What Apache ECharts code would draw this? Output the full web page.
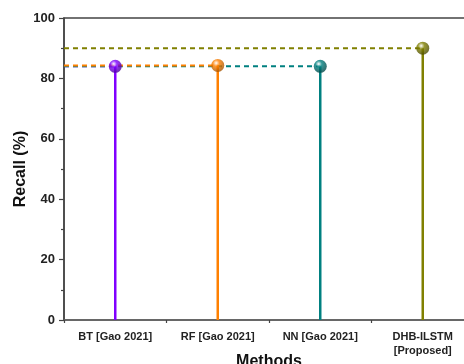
<!DOCTYPE html>
<html><head><meta charset="utf-8">
<script src="https://cdn.jsdelivr.net/npm/echarts@6/dist/echarts.min.js"></script>
<style>html,body{margin:0;padding:0;background:#fff;overflow:hidden}#c{width:464px;height:364px}</style>
</head><body><div id="c"></div>
<script>
const categories = ['BT [Gao 2021]', 'RF [Gao 2021]', 'NN [Gao 2021]', 'DHB-ILSTM\n[Proposed]'];
const recall = [84.0, 84.3, 84.0, 90.0];
const colors = ['#8000FF', '#FF8000', '#008080', '#808000'];
const darkColors = ['#4a0099', '#a35200', '#004545', '#4a4a00'];
const yTicks = [0, 20, 40, 60, 80, 100];

const font = '"Liberation Sans", Arial, sans-serif';
const chart = echarts.init(document.getElementById('c'));

const dashZ = [2, 4, 3, 4];
const dashSeries = [0, 1, 2, 3].map(i => ({
  type: 'line', xAxisIndex: 1, yAxisIndex: 0, symbol: 'none', silent: true,
  data: [[0, recall[i]], [i + 0.5, recall[i]]],
  lineStyle: { color: colors[i], width: 2, type: [5, 4] },
  z: dashZ[i]
}));

chart.setOption({
  animation: false,
  grid: { left: 64, top: 18, width: 410, height: 302, outerBoundsMode: 'none', show: true, borderColor: '#444', borderWidth: 1.5, containLabel: false },
  xAxis: [
    { type: 'category', data: categories, position: 'bottom',
      axisLine: { lineStyle: { color: '#666', width: 1.5 } },
      axisTick: { alignWithLabel: true, length: 5, lineStyle: { color: '#444', width: 1.2 } },
      axisLabel: { color: '#222', fontFamily: font, fontWeight: 'bold', fontSize: 11, margin: 10, lineHeight: 14 },
      name: 'Methods', nameLocation: 'middle', nameGap: 34, nameMoveOverlap: false,
      nameTextStyle: { color: '#111', fontFamily: font, fontWeight: 'bold', fontSize: 16 } },
    { type: 'value', min: 0, max: 4, interval: 1, position: 'bottom',
      axisLine: { show: false }, axisLabel: { show: false }, splitLine: { show: false },
      axisTick: { show: true, length: 3, lineStyle: { color: '#444', width: 1.2 } } }
  ],
  yAxis: [{
    type: 'value', min: yTicks[0], max: yTicks[yTicks.length - 1], interval: 20,
    axisLine: { show: true, lineStyle: { color: '#444', width: 1.5 } },
    axisTick: { show: true, length: 5, lineStyle: { color: '#444', width: 1.2 } },
    minorTick: { show: true, splitNumber: 2, length: 3, lineStyle: { color: '#444', width: 1.2 } },
    splitLine: { show: false },
    axisLabel: { color: '#222', fontFamily: font, fontWeight: 'bold', fontSize: 13, margin: 9 },
    name: 'Recall (%)', nameLocation: 'middle', nameGap: 35, nameMoveOverlap: false,
    nameTextStyle: { color: '#111', fontFamily: font, fontWeight: 'bold', fontSize: 16 }
  }],
  series: [
    ...dashSeries,
    { type: 'bar', xAxisIndex: 0, barWidth: 2.5, silent: true, z: 5,
      data: recall.map((v, i) => ({ value: v, itemStyle: { color: colors[i] } })) },
    { type: 'scatter', xAxisIndex: 0, symbolSize: 13, z: 10, silent: true,
      data: recall.map((v, i) => ({ value: v, itemStyle: { color: {
        type: 'radial', x: 0.38, y: 0.32, r: 0.7,
        colorStops: [{ offset: 0, color: '#ffffff' }, { offset: 0.35, color: colors[i] }, { offset: 1, color: darkColors[i] }]
      } } })) }
  ]
});
</script></body></html>
